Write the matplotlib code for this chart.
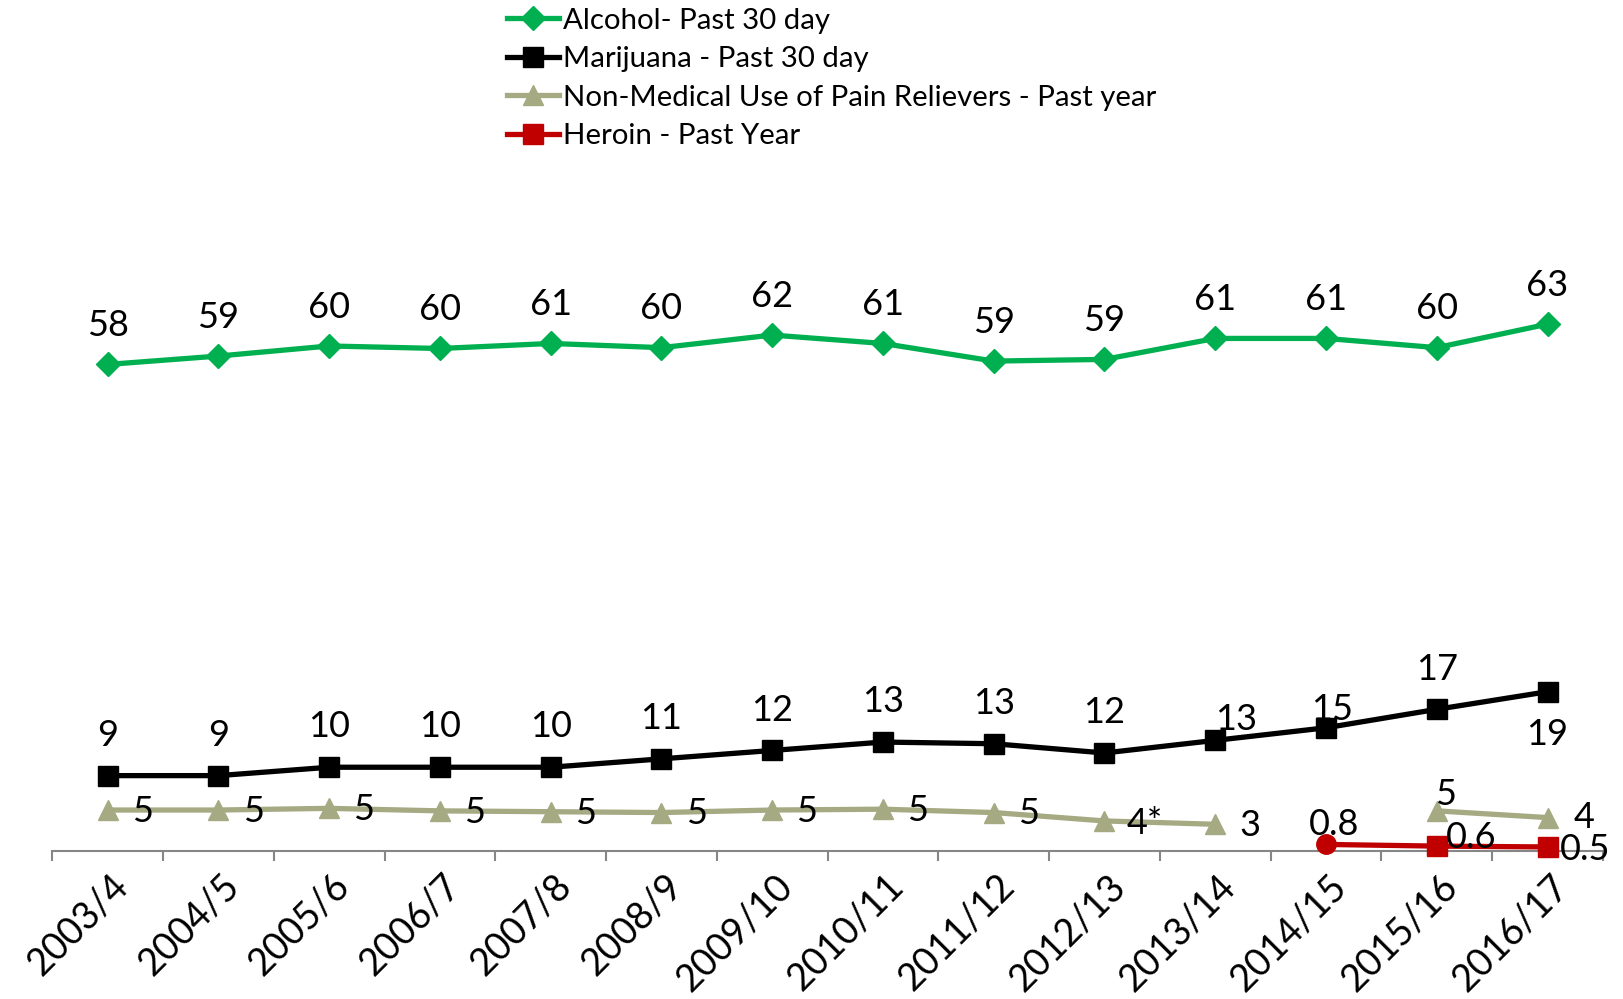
import numpy as np
import matplotlib
matplotlib.use("Agg")
import matplotlib.pyplot as plt
import matplotlib.transforms as mtransforms

plt.rcParams['font.family'] = ['Lato', 'DejaVu Sans']

years = ["2003/4", "2004/5", "2005/6", "2006/7", "2007/8", "2008/9", "2009/10",
         "2010/11", "2011/12", "2012/13", "2013/14", "2014/15", "2015/16", "2016/17"]

alcohol = [58.0, 59.0, 60.2, 59.9, 60.5, 60.0, 61.5, 60.5, 58.4, 58.6, 61.1, 61.1, 60.0, 62.8]
alcohol_lbl = ["58", "59", "60", "60", "61", "60", "62", "61", "59", "59", "61", "61", "60", "63"]

marijuana = [9.0, 9.0, 10.0, 10.0, 10.0, 11.0, 12.0, 13.0, 12.8, 11.7, 13.2, 14.7, 16.9, 19.0]
marijuana_lbl = ["9", "9", "10", "10", "10", "11", "12", "13", "13", "12", "13", "15", "17", "19"]

pain = [4.9, 4.9, 5.1, 4.8, 4.7, 4.6, 4.9, 5.0, 4.6, 3.6, 3.2, np.nan, 4.8, 4.0]
pain_lbl = ["5", "5", "5", "5", "5", "5", "5", "5", "5", "4*", "3", "", "5", "4"]

heroin = [np.nan] * 11 + [0.8, 0.6, 0.5]
heroin_lbl = [""] * 11 + ["0.8", "0.6", "0.5"]

GREEN = "#00B050"
OLIVE = "#A5AA82"
RED = "#C00000"
FS = 26

fig = plt.figure(figsize=(16.24, 9.99), dpi=100)
ax = fig.add_axes([0.0322, 0.148, 0.9548, 0.588])
x = np.arange(len(years))

ax.plot(x, alcohol, color=GREEN, lw=3.8, marker="D", ms=12, label="Alcohol- Past 30 day")
ax.plot(x, marijuana, color="black", lw=3.8, marker="s", ms=14, label="Marijuana - Past 30 day")
ax.plot(x, pain, color=OLIVE, lw=3.8, marker="^", ms=15,
        label="Non-Medical Use of Pain Relievers - Past year")
ax.plot(x, heroin, color=RED, lw=3.8, marker="s", ms=14, markevery=[12, 13],
        label="Heroin - Past Year", clip_on=False, zorder=4)
ax.plot(x[11], heroin[11], color=RED, marker="o", ms=14, lw=0, clip_on=False, zorder=4)


def put_labels(vals, lbls, default, special=None):
    special = special or {}
    for i, (v, t) in enumerate(zip(vals, lbls)):
        if t == "" or np.isnan(v):
            continue
        dx, dy = special.get(i, default)
        ax.annotate(t, (x[i], v), xytext=(dx, dy), textcoords="offset points",
                    ha="center", va="center", fontsize=FS, color="black", zorder=5)


put_labels(alcohol, alcohol_lbl, (0, 28))
put_labels(marijuana, marijuana_lbl, (0, 29),
           {10: (15, 15), 11: (4, 13), 13: (0, -31)})
put_labels(pain, pain_lbl, (25, -1), {9: (29, -2), 12: (6, 12), 13: (26, 0)})
put_labels(heroin, heroin_lbl, (0, 0), {11: (6, 14), 12: (25, 6), 13: (27, -2)})

ax.set_xlim(-0.5, len(years) - 0.5)
ax.set_ylim(0, 70)
ax.set_yticks([])
for s in ["left", "right", "top"]:
    ax.spines[s].set_visible(False)
ax.spines["bottom"].set_color("#868686")
ax.spines["bottom"].set_linewidth(1.5)
ax.set_xticks(np.arange(len(years) + 1) - 0.5)
ax.set_xticklabels([])
ax.tick_params(axis="x", length=7, width=1.5, color="#868686", direction="out")
ax.set_xticks(x, minor=True)
ax.set_xticklabels(years, minor=True, rotation=45, ha="right", va="top",
                   rotation_mode="anchor", fontsize=27)
ax.tick_params(axis="x", which="minor", length=0, pad=12)
# nudge rotated year labels so their ends sit under the points
shift = mtransforms.ScaledTranslation(2 / 100, 0, fig.dpi_scale_trans)
for lbl in ax.get_xticklabels(minor=True):
    lbl.set_transform(lbl.get_transform() + shift)

fig.legend(loc="upper left", bbox_to_anchor=(0.305, 1.004), frameon=False,
           fontsize=21.2, handlelength=1.75, handletextpad=0.15, labelspacing=0.42,
           borderaxespad=0)

fig.savefig("out.png", dpi=100)
